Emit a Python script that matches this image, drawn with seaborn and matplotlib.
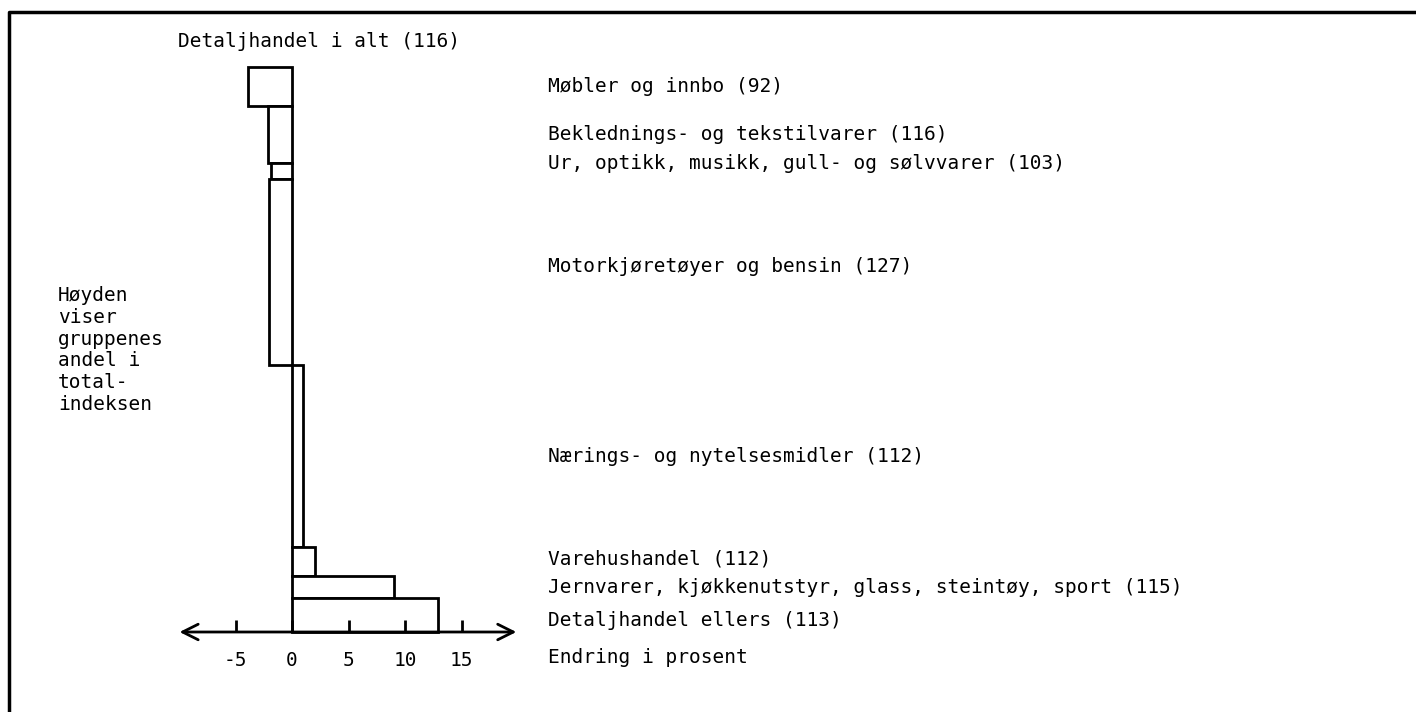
import numpy as np
import pandas as pd
import matplotlib
matplotlib.use("Agg")
import matplotlib.pyplot as plt
import seaborn as sns

# grupper fra topp til bunn
grupper = ["Møbler og innbo", "Beklednings- og tekstilvarer",
           "Ur, optikk, musikk, gull- og sølvvarer", "Motorkjøretøyer og bensin",
           "Nærings- og nytelsesmidler", "Varehushandel",
           "Jernvarer, kjøkkenutstyr, glass, steintøy, sport", "Detaljhandel ellers"]
indeks = [92, 116, 103, 127, 112, 112, 115, 113]
endring = [-3.9, -2.1, -1.9, -2.0, 1.0, 2.0, 9.0, 12.9]   # prosent
andel = [6.9, 10.1, 2.8, 33.0, 32.2, 5.1, 3.9, 6.0]       # andel i totalindeksen
total_navn = "Detaljhandel i alt"
total_indeks = 116
ticks = [-5, 0, 5, 10, 15]

# små justeringer av etikettene (piksler, positiv = opp)
etikett_flytt = [0, 0, 7, 6, 0, 3, 0, -5]

sns.set_theme(style="white")
plt.rcParams["font.family"] = ["DejaVu Sans Mono"]
plt.rcParams["font.size"] = 14

W, H = 1416, 712
fig = plt.figure(figsize=(W / 100, H / 100), dpi=100)
ax = fig.add_axes([0, 0, 1, 1])

df = pd.DataFrame({"gruppe": grupper, "endring": endring, "andel": andel})
sns.barplot(data=df, x="endring", y="gruppe", orient="h", color="white",
            edgecolor="black", linewidth=2, ax=ax)

# variabel høyde: hver stolpe får sin andel, stablet fra bunnen
topp = np.cumsum(andel[::-1])[::-1]
bunn = topp - np.array(andel)
for bar, b, h in zip(ax.patches, bunn, andel):
    bar.set_y(b)
    bar.set_height(h)

# skala: 0 ved x=292 px, 11.3 px per prosent; 0 ved y=632 px, 5.65 px per andel
px_x, px_y = 11.3, 5.65
x0, y0 = 292, 632
ax.set_xlim(-x0 / px_x, (W - x0) / px_x)
ax.set_ylim(-(H - y0) / px_y, y0 / px_y)
ax.axis("off")

# x-akse med piler
ax.annotate("", xy=(-10.2, 0), xytext=(20.1, 0),
            arrowprops=dict(arrowstyle="<->", lw=2, color="black", mutation_scale=28))
ax.vlines(ticks, 0, 2.1, color="black", lw=2)
for t in ticks:
    ax.text(t, -5.0, str(t), ha="center", va="center", color="black")

# etiketter
lx = (548 - x0) / px_x
for g, i, b, h, d in zip(grupper, indeks, bunn, andel, etikett_flytt):
    ax.text(lx, b + h / 2 + d / px_y, f"{g} ({i})", ha="left", va="center", color="black")
ax.text(lx, -4.6, "Endring i prosent", ha="left", va="center", color="black")
ax.text((178 - x0) / px_x, topp[0] + 4.5, f"{total_navn} ({total_indeks})",
        ha="left", va="center", color="black")
ax.text((58 - x0) / px_x, 49.9, "Høyden\nviser\ngruppenes\nandel i\ntotal-\nindeksen",
        ha="left", va="center", color="black", linespacing=1.19)

# ramme
fx, fy = 9 / W, 1 - 12 / H
ax.plot([fx, fx, 1], [0, fy, fy], transform=ax.transAxes, color="black",
        lw=2.5, clip_on=False)

fig.savefig("out.png", dpi=100)
